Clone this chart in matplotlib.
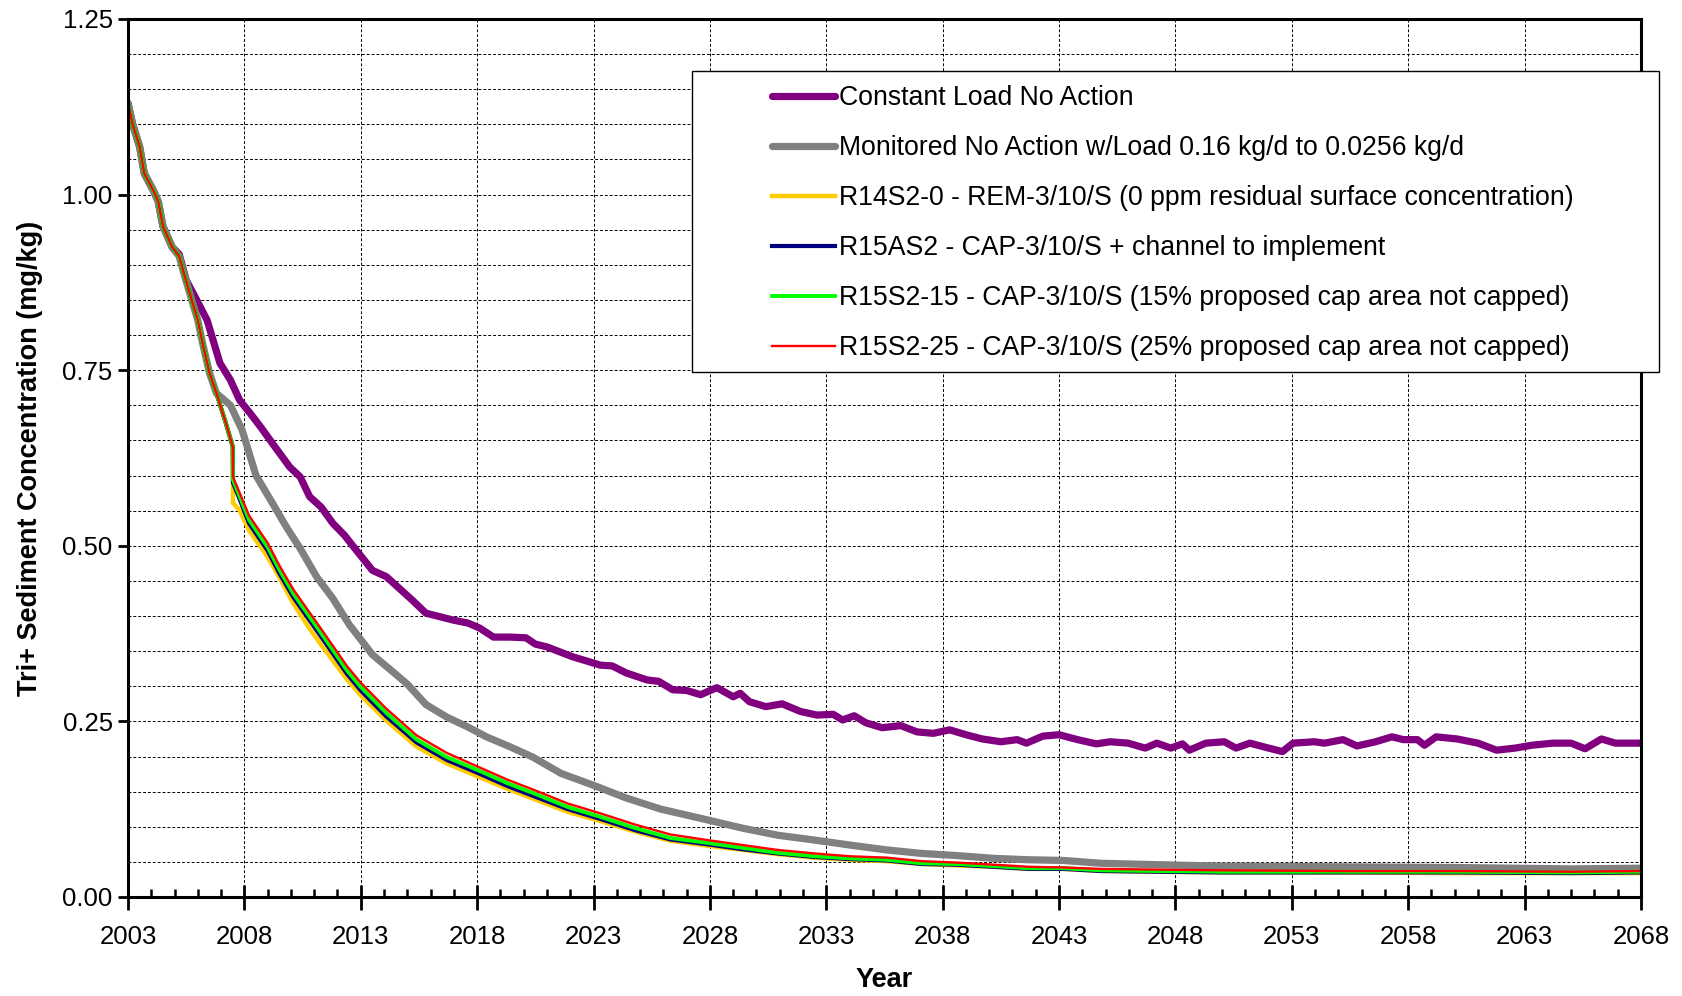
import matplotlib
matplotlib.use("Agg")
import matplotlib.pyplot as plt
from matplotlib.patches import Rectangle
from matplotlib.ticker import FixedLocator, MultipleLocator, FormatStrFormatter

plt.rcParams['font.family'] = ['Liberation Sans', 'DejaVu Sans']

# Constant Load No Action
years_const = [2003.0, 2003.2, 2003.5, 2003.7, 2004.1, 2004.3, 2004.5, 2004.9, 2005.2, 2005.5,
               2005.95, 2006.4, 2006.95, 2007.4, 2007.8, 2008.24, 2008.7, 2009.2, 2009.95, 2010.4,
               2010.8, 2011.3, 2011.8, 2012.3, 2012.8, 2013.5, 2014.1, 2014.4, 2015.2, 2015.8,
               2016.4, 2017.0, 2017.6, 2018.1, 2018.7, 2019.4, 2020.1, 2020.5, 2021.0, 2022.1,
               2023.3, 2023.8, 2024.4, 2025.3, 2025.8, 2026.4, 2027.0, 2027.6, 2028.3, 2029.0,
               2029.3, 2029.7, 2030.4, 2031.1, 2031.9, 2032.6, 2033.3, 2033.7, 2034.2, 2034.7,
               2035.4, 2036.2, 2036.9, 2037.6, 2038.3, 2039.0, 2039.7, 2040.5, 2041.2, 2041.6,
               2042.3, 2043.0, 2043.8, 2044.6, 2045.2, 2045.97, 2046.7, 2047.2, 2047.8, 2048.3,
               2048.6, 2049.3, 2050.1, 2050.6, 2051.2, 2052.0, 2052.6, 2053.05, 2053.96, 2054.4,
               2055.2, 2055.8, 2056.6, 2057.3, 2057.8, 2058.4, 2058.7, 2059.2, 2060.1, 2061.0,
               2061.8, 2062.6, 2063.3, 2064.2, 2065.0, 2065.6, 2066.3, 2066.9, 2067.5, 2068.0]
conc_const = [1.13, 1.10, 1.068, 1.03, 1.005, 0.99, 0.955, 0.925, 0.915, 0.878,
              0.850, 0.821, 0.760, 0.736, 0.707, 0.689, 0.669, 0.646, 0.612, 0.598,
              0.570, 0.555, 0.532, 0.515, 0.494, 0.465, 0.456, 0.447, 0.423, 0.404,
              0.399, 0.394, 0.390, 0.383, 0.370, 0.370, 0.369, 0.360, 0.356, 0.342,
              0.330, 0.329, 0.319, 0.309, 0.307, 0.295, 0.294, 0.288, 0.298, 0.285,
              0.290, 0.278, 0.271, 0.275, 0.264, 0.259, 0.260, 0.252, 0.258, 0.248,
              0.241, 0.244, 0.235, 0.233, 0.238, 0.231, 0.225, 0.221, 0.224, 0.219,
              0.229, 0.231, 0.224, 0.218, 0.221, 0.219, 0.212, 0.219, 0.212, 0.218,
              0.209, 0.219, 0.221, 0.212, 0.219, 0.212, 0.207, 0.219, 0.221, 0.219,
              0.224, 0.215, 0.221, 0.228, 0.224, 0.224, 0.216, 0.228, 0.225, 0.219,
              0.209, 0.212, 0.216, 0.219, 0.219, 0.211, 0.225, 0.219, 0.219, 0.219]

# Monitored No Action
years_mon = [2003.0, 2003.2, 2003.5, 2003.7, 2004.1, 2004.3, 2004.5, 2004.9, 2005.2, 2005.4,
             2005.7, 2006.0, 2006.2, 2006.5, 2006.8, 2007.4, 2007.9, 2008.5, 2009.2, 2009.8,
             2010.4, 2011.1, 2011.8, 2012.5, 2013.5, 2014.4, 2015.0, 2015.8, 2016.7, 2017.6,
             2018.4, 2019.4, 2020.4, 2021.6, 2023.0, 2024.4, 2025.9, 2027.6, 2029.4, 2030.9,
             2032.5, 2034.0, 2035.6, 2037.1, 2038.6, 2040.2, 2041.7, 2043.2, 2044.8, 2047.2,
             2050.0, 2055.0, 2060.0, 2065.0, 2068.0]
conc_mon = [1.13, 1.10, 1.068, 1.03, 1.005, 0.99, 0.955, 0.925, 0.912, 0.888,
            0.854, 0.821, 0.789, 0.746, 0.717, 0.700, 0.665, 0.600, 0.561, 0.527,
            0.496, 0.456, 0.425, 0.388, 0.345, 0.320, 0.303, 0.274, 0.256, 0.242,
            0.228, 0.214, 0.199, 0.176, 0.159, 0.141, 0.125, 0.112, 0.098, 0.088,
            0.081, 0.074, 0.067, 0.062, 0.059, 0.055, 0.053, 0.052, 0.048, 0.046,
            0.044, 0.043, 0.042, 0.040, 0.041]

# remedial alternatives share one time axis
years_alt = [2003.0, 2003.2, 2003.5, 2003.7, 2004.1, 2004.3, 2004.5, 2004.9, 2005.2, 2005.4,
             2005.7, 2006.0, 2006.2, 2006.5, 2006.8, 2007.2, 2007.5, 2007.51, 2007.8, 2008.2,
             2009.0, 2009.5, 2010.1, 2010.8, 2011.5, 2012.4, 2013.0, 2014.1, 2015.4, 2016.7,
             2018.0, 2019.3, 2020.4, 2021.9, 2023.3, 2024.8, 2026.3, 2027.9, 2029.4, 2030.9,
             2032.5, 2034.0, 2035.6, 2037.1, 2038.6, 2040.2, 2041.7, 2043.2, 2044.8, 2047.2,
             2050.0, 2055.0, 2060.0, 2065.0, 2068.0]
conc_r14s2_0 = [1.13, 1.10, 1.068, 1.03, 1.005, 0.99, 0.955, 0.925, 0.912, 0.888,
                0.854, 0.821, 0.789, 0.746, 0.717, 0.675, 0.641, 0.561, 0.550, 0.522,
                0.484, 0.455, 0.418, 0.382, 0.350, 0.310, 0.287, 0.251, 0.214, 0.190,
                0.172, 0.154, 0.140, 0.121, 0.108, 0.093, 0.080, 0.073, 0.067, 0.061,
                0.056, 0.053, 0.051, 0.047, 0.045, 0.043, 0.040, 0.040, 0.037, 0.036,
                0.035, 0.035, 0.034, 0.034, 0.034]
conc_r15as2 = [1.13, 1.10, 1.068, 1.03, 1.005, 0.99, 0.955, 0.925, 0.912, 0.888,
               0.854, 0.821, 0.789, 0.746, 0.717, 0.675, 0.641, 0.590, 0.566, 0.532,
               0.493, 0.461, 0.427, 0.394, 0.361, 0.318, 0.294, 0.257, 0.220, 0.195,
               0.177, 0.158, 0.144, 0.125, 0.111, 0.095, 0.082, 0.075, 0.068, 0.062,
               0.057, 0.054, 0.052, 0.047, 0.046, 0.043, 0.040, 0.040, 0.037, 0.036,
               0.035, 0.035, 0.035, 0.034, 0.035]
conc_r15s2_15 = [1.13, 1.10, 1.068, 1.03, 1.005, 0.99, 0.955, 0.925, 0.912, 0.888,
                 0.854, 0.821, 0.789, 0.746, 0.717, 0.675, 0.641, 0.594, 0.570, 0.537,
                 0.498, 0.466, 0.432, 0.399, 0.366, 0.323, 0.299, 0.262, 0.224, 0.199,
                 0.181, 0.162, 0.148, 0.128, 0.114, 0.098, 0.084, 0.077, 0.070, 0.063,
                 0.058, 0.055, 0.053, 0.048, 0.047, 0.044, 0.041, 0.041, 0.038, 0.037,
                 0.036, 0.036, 0.036, 0.035, 0.036]
conc_r15s2_25 = [1.13, 1.10, 1.068, 1.03, 1.005, 0.99, 0.955, 0.925, 0.912, 0.888,
                 0.854, 0.821, 0.789, 0.746, 0.717, 0.675, 0.641, 0.598, 0.575, 0.543,
                 0.504, 0.472, 0.438, 0.405, 0.372, 0.329, 0.305, 0.268, 0.230, 0.205,
                 0.186, 0.167, 0.153, 0.133, 0.119, 0.103, 0.089, 0.081, 0.074, 0.067,
                 0.062, 0.058, 0.056, 0.051, 0.049, 0.046, 0.043, 0.042, 0.040, 0.039,
                 0.038, 0.037, 0.037, 0.036, 0.037]

year_ticks = list(range(2003, 2069, 5))

labels = ["Constant Load No Action",
          "Monitored No Action w/Load 0.16 kg/d to 0.0256 kg/d",
          "R14S2-0 - REM-3/10/S (0 ppm residual surface concentration)",
          "R15AS2 - CAP-3/10/S + channel to implement",
          "R15S2-15 - CAP-3/10/S (15% proposed cap area not capped)",
          "R15S2-25 - CAP-3/10/S (25% proposed cap area not capped)"]

fig = plt.figure(figsize=(16.82, 9.96), dpi=100)
ax = fig.add_axes([0.0761, 0.0994, 0.8995, 0.8816])

ax.plot(years_const, conc_const, color="#800080", lw=5.2, label=labels[0], solid_capstyle="round")
ax.plot(years_mon, conc_mon, color="#808080", lw=5.2, label=labels[1], solid_capstyle="round")
ax.plot(years_alt, conc_r14s2_0, color="#FFCC00", lw=3.2, label=labels[2])
ax.plot(years_alt, conc_r15as2, color="#000080", lw=3.0, label=labels[3])
ax.plot(years_alt, conc_r15s2_15, color="#00FF00", lw=2.8, label=labels[4])
ax.plot(years_alt, conc_r15s2_25, color="#FF0000", lw=1.7, label=labels[5])

ax.set_xlim(2003, 2068)
ax.set_ylim(0, 1.25)
ax.xaxis.set_major_locator(FixedLocator(year_ticks))
ax.xaxis.set_minor_locator(MultipleLocator(1))
ax.yaxis.set_major_locator(MultipleLocator(0.25))
ax.yaxis.set_minor_locator(MultipleLocator(0.05))
ax.yaxis.set_major_formatter(FormatStrFormatter("%.2f"))

ax.tick_params(axis="x", which="major", direction="inout", length=18, width=2, labelsize=18.5, pad=11)
ax.tick_params(axis="x", which="minor", direction="in", length=6, width=1.8)
ax.tick_params(axis="y", which="major", direction="out", length=7, width=2, labelsize=18.5, pad=4)
ax.tick_params(axis="y", which="minor", length=0)

ax.grid(True, axis="x", which="major", color="black", ls=(0, (3, 2)), lw=0.7)
ax.grid(True, axis="y", which="both", color="black", ls=(0, (3, 2)), lw=0.7)
ax.set_axisbelow(True)

for s in ax.spines.values():
    s.set_linewidth(2.2)

ax.set_xlabel("Year", fontsize=19.5, fontweight="bold", labelpad=13)
ax.set_ylabel("Tri+ Sediment Concentration (mg/kg)", fontsize=19.5, fontweight="bold", labelpad=14)

# legend box drawn separately so the frame can be wider than the entries
box = Rectangle((692 / 1682, 1 - 372 / 996), (1659 - 692) / 1682, (372 - 71) / 996,
                transform=fig.transFigure, facecolor="white", edgecolor="black",
                lw=1.0, zorder=5)
fig.patches.append(box)

leg = fig.legend(loc="upper left", bbox_to_anchor=(772 / 1682, 1 - 85 / 996),
                 frameon=False, fontsize=19.2, handlelength=2.38, handletextpad=0.12,
                 borderpad=0, borderaxespad=0, labelspacing=0.9)
leg.set_zorder(6)

fig.savefig("out.png", dpi=100)
